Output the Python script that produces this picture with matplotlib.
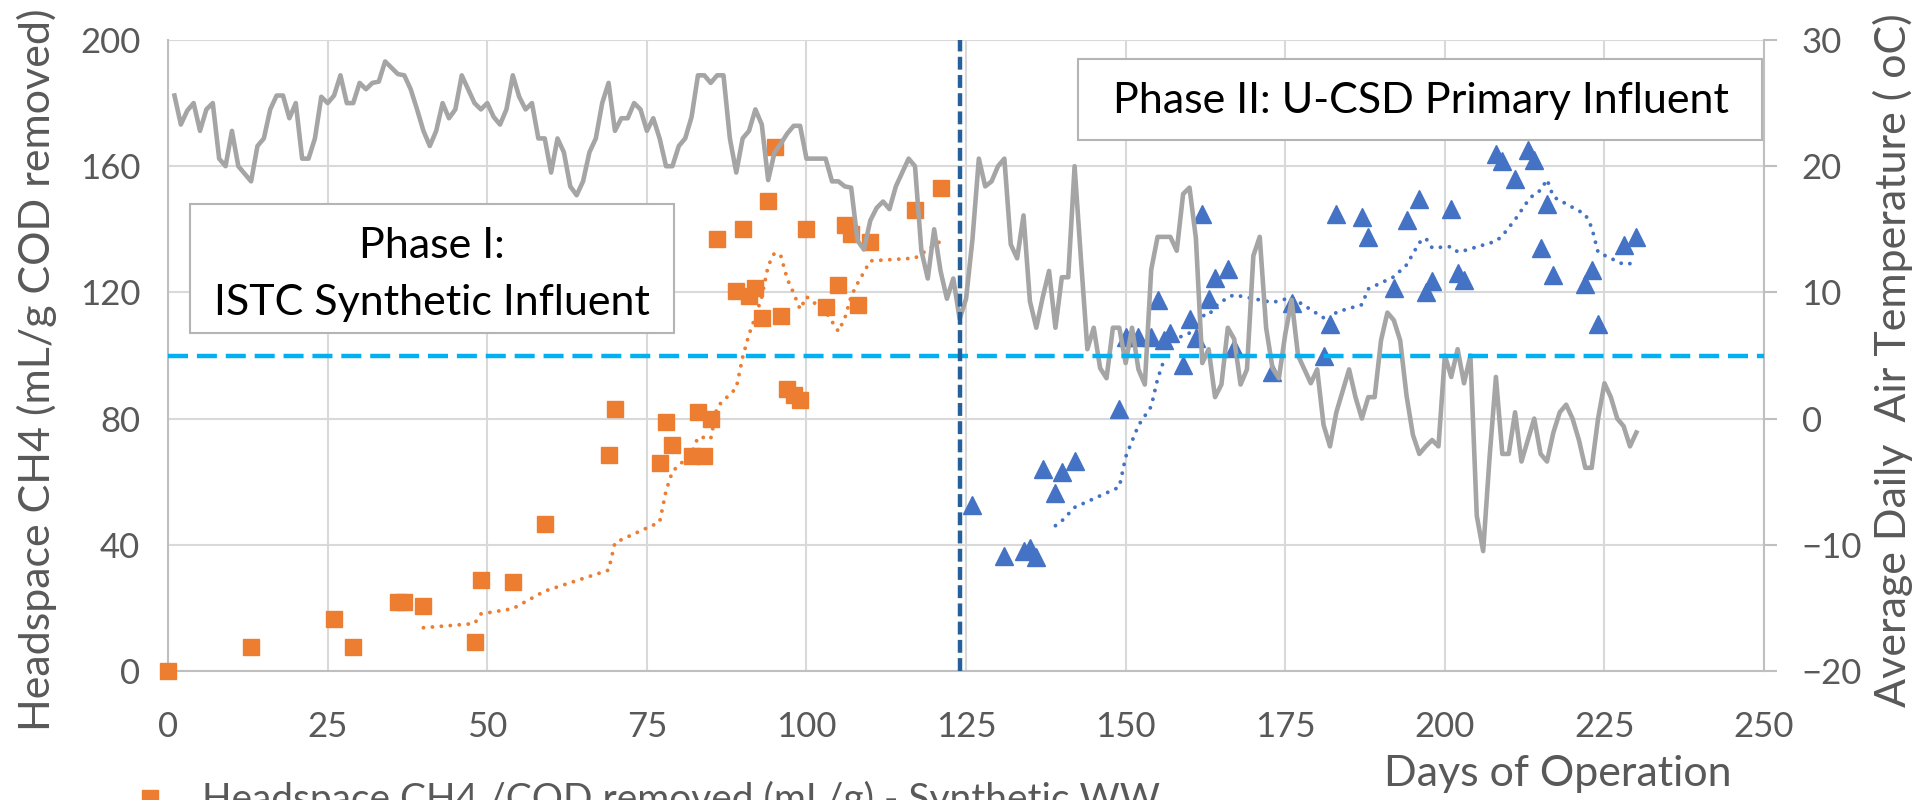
import matplotlib.pyplot as plt
import matplotlib.patches as mpatches
import numpy as np
import pandas as pd

plt.rcParams['font.family'] = ['Lato', 'DejaVu Sans']

# Phase I - synthetic wastewater, headspace CH4 per g COD removed (mL/g)
synth_day = [0, 13, 26, 29, 36, 37, 40, 48, 49, 54, 59, 69, 70, 77, 78, 79, 82, 83, 84, 85,
             86, 89, 90, 91, 92, 93, 94, 95, 96, 97, 98, 99, 100, 103, 105, 106, 107, 108,
             110, 117, 121]
synth_ch4 = [0, 7.5, 16.5, 7.5, 22, 22, 20.5, 9.3, 28.8, 28.2, 46.5, 68.5, 83, 66, 79, 71.5,
             68.3, 82, 68.3, 80, 137, 120.5, 140, 119, 121.5, 112, 149, 166, 112.5, 89.5, 87.5,
             86, 140, 115.5, 122.5, 141.5, 138.5, 116, 136, 146, 153]

# Phase II - U-CSD primary influent
ucsd_day = [126, 131, 134, 135, 136, 137, 139, 140, 142, 149, 150, 152, 154, 155, 156, 157,
            159, 160, 161, 162, 163, 164, 166, 167, 173, 176, 181, 182, 183, 187, 188, 192,
            194, 196, 197, 198, 201, 202, 203, 208, 209, 211, 213, 214, 215, 216, 217, 222,
            223, 224, 228, 230]
ucsd_ch4 = [52.5, 36.5, 38, 39, 36, 64, 56.5, 63, 66.5, 83, 106, 106, 105.8, 117.5, 105, 107,
            97, 111.5, 105.5, 145, 118, 124.5, 127.5, 102.5, 94.7, 116.5, 100, 110, 145, 144,
            137.5, 121.5, 143, 149.5, 120, 123.5, 146.5, 126, 124, 164, 161.5, 156, 165, 162,
            134, 148, 125.5, 122.6, 127, 110, 135, 137.5]

# average daily air temperature (oC), days 1..230
temp_day = np.arange(1, 231)
air_temp = [25.6, 23.3, 24.4, 25.0, 22.8, 24.5, 25.0, 20.6, 20.0, 22.8,
            20.0, 19.4, 18.8, 21.6, 22.2, 24.5, 25.6, 25.6, 23.8, 25.0,
            20.6, 20.6, 22.2, 25.5, 25.0, 25.6, 27.2, 25.0, 25.0, 26.6,
            26.1, 26.6, 26.7, 28.3, 27.8, 27.3, 27.2, 26.1, 24.5, 22.8,
            21.6, 22.8, 25.0, 23.8, 24.5, 27.2, 26.1, 25.0, 24.5, 25.0,
            23.9, 23.3, 24.5, 27.2, 25.5, 24.5, 25.0, 22.2, 22.2, 19.5,
            22.2, 21.1, 18.4, 17.7, 18.8, 21.1, 22.2, 25.0, 26.6, 22.8,
            23.8, 23.8, 25.0, 24.5, 22.8, 23.8, 22.2, 20.0, 20.0, 21.6,
            22.2, 23.9, 27.2, 27.2, 26.6, 27.2, 27.2, 22.2, 19.5, 22.2,
            22.8, 24.5, 23.3, 18.9, 21.1, 21.8, 22.6, 23.2, 23.2, 20.6,
            20.6, 20.6, 20.6, 18.8, 18.8, 18.4, 18.3, 14.1, 13.4, 15.7,
            16.7, 17.2, 16.6, 18.4, 19.5, 20.6, 20.0, 13.3, 11.1, 15.0,
            11.7, 9.5, 11.1, 7.9, 9.5, 14.2, 20.6, 18.4, 18.8, 20.0,
            20.6, 13.8, 12.7, 16.1, 9.3, 7.2, 9.6, 11.7, 7.2, 11.2,
            11.2, 20.0, 12.6, 5.5, 7.2, 4.0, 3.2, 7.2, 7.2, 4.4,
            7.2, 3.9, 2.7, 11.8, 14.4, 14.4, 14.4, 13.3, 17.8, 18.3,
            14.3, 4.4, 5.5, 1.7, 2.7, 7.2, 6.3, 2.7, 3.9, 12.9,
            14.4, 7.2, 4.0, 3.2, 6.7, 9.4, 5.0, 3.9, 2.8, 3.9,
            -0.5, -2.2, 0.5, 2.2, 3.9, 1.7, 0.0, 1.7, 1.7, 6.2,
            8.4, 7.8, 6.2, 1.8, -1.3, -2.8, -2.2, -1.7, -2.2, 5.0,
            3.3, 5.5, 2.8, 5.0, -7.7, -10.5, -3.1, 3.3, -2.8, -2.8,
            0.5, -3.4, -1.7, 0.0, -2.8, -3.4, -1.1, 0.5, 1.1, 0.0,
            -1.7, -3.9, -3.9, 0.0, 2.8, 1.7, 0.0, -0.6, -2.2, -1.1]

phase_split = 124   # day the reactor was switched to real influent
ch4_ref = 100       # horizontal reference, mL/g

ORANGE = '#ED7D31'
BLUE = '#4472C4'
GRAY = '#A5A5A5'
TXT = '#595959'
GRID = '#D9D9D9'
AXC = '#BFBFBF'

fig = plt.figure(figsize=(19.21, 8), dpi=100)
ax = fig.add_axes([0.0875, 0.16125, 0.8308, 0.78875])
ax2 = ax.twinx()

# excel style 7 point moving average trendlines
synth_ma = pd.Series(synth_ch4).rolling(7).mean()
ucsd_ma = pd.Series(ucsd_ch4).rolling(7).mean()

ax.plot(synth_day, synth_ch4, 's', color=ORANGE, ms=11.5, clip_on=False, zorder=3,
        label='Headspace CH4 /COD removed (mL/g) - Synthetic WW')
ax.plot(ucsd_day, ucsd_ch4, '^', color=BLUE, ms=12.5, clip_on=False, zorder=3)
ax.plot(synth_day, synth_ma, color=ORANGE, lw=2.8, ls=(0, (0.01, 2.3)),
        dash_capstyle='round', zorder=2)
ax.plot(ucsd_day, ucsd_ma, color=BLUE, lw=2.8, ls=(0, (0.01, 2.3)),
        dash_capstyle='round', zorder=2)

ax2.plot(temp_day, air_temp, color=GRAY, lw=3.3, zorder=2)

# reference lines on top of everything
hl = ax2.axhline(ch4_ref, color='#00B0F0', lw=3.2, ls=(0, (4.5, 2.0)), zorder=4)
hl.set_transform(ax.get_yaxis_transform())
ax2.axvline(phase_split, color='#25609A', lw=3.2, ls=(0, (2.9, 1.2)), zorder=4)

ax.set_xlim(0, 250)
ax.set_ylim(0, 200)
ax2.set_ylim(-20, 30)
ax.set_xticks(range(0, 251, 25))
ax.set_yticks(range(0, 201, 40))
ax2.set_yticks(range(-20, 31, 10))

ax.grid(True, color=GRID, lw=1.5)
ax.set_axisbelow(True)
for s in ['top', 'right']:
    ax.spines[s].set_visible(False)
for s in ['left', 'bottom']:
    ax.spines[s].set_color(AXC)
    ax.spines[s].set_linewidth(1.5)
for s in ['top', 'left', 'bottom']:
    ax2.spines[s].set_visible(False)
ax2.spines['right'].set_color(AXC)
ax2.spines['right'].set_linewidth(1.5)

ax.tick_params(axis='x', length=0, labelsize=25, labelcolor=TXT, pad=29)
ax.tick_params(axis='y', length=0, labelsize=25, labelcolor=TXT, pad=20)
ax2.tick_params(axis='y', length=9, width=1.5, color=AXC, labelsize=25,
                labelcolor=TXT, pad=18)

# axis titles
fig.text(37 / 1921, 1 - 370 / 800, 'Headspace CH4 (mL/g COD removed)', rotation=90,
         ha='center', va='center', fontsize=31, color=TXT)
fig.text(1893 / 1921, 1 - 360 / 800, 'Average Daily  Air Temperature ( oC)', rotation=90,
         ha='center', va='center', fontsize=31, color=TXT)
fig.text(1558 / 1921, 1 - 786 / 800, 'Days of Operation', ha='center', va='baseline',
         fontsize=31, color=TXT)

# phase text boxes
box1 = mpatches.Rectangle((0.0138, 0.5357), 0.3032, 0.2043, transform=ax.transAxes,
                          facecolor='white', edgecolor='#B4B4B4', lw=1.5, zorder=5)
box2 = mpatches.Rectangle((0.570, 0.8415), 0.4287, 0.1285, transform=ax.transAxes,
                          facecolor='white', edgecolor='#B4B4B4', lw=1.5, zorder=5)
ax2.add_patch(box1)
ax2.add_patch(box2)
ax2.text(0.1654, 0.6545, 'Phase I:', transform=ax.transAxes, ha='center', va='baseline',
         fontsize=31, color='black', zorder=6)
ax2.text(0.1654, 0.5642, 'ISTC Synthetic Influent', transform=ax.transAxes, ha='center',
         va='baseline', fontsize=31, color='black', zorder=6)
ax2.text(0.7849, 0.8843, 'Phase II: U-CSD Primary Influent', transform=ax.transAxes,
         ha='center', va='baseline', fontsize=31, color='black', zorder=6)

# legend sits below the plot and is cut by the figure edge, as in the source figure
h, l = ax.get_legend_handles_labels()
fig.legend(h, l, loc='upper left', bbox_to_anchor=(131 / 1921, 1 - 781 / 800),
           frameon=False, fontsize=28, labelcolor=TXT, handlelength=1.0,
           handletextpad=0.83, borderpad=0, borderaxespad=0)

fig.savefig('out.png', dpi=100)
